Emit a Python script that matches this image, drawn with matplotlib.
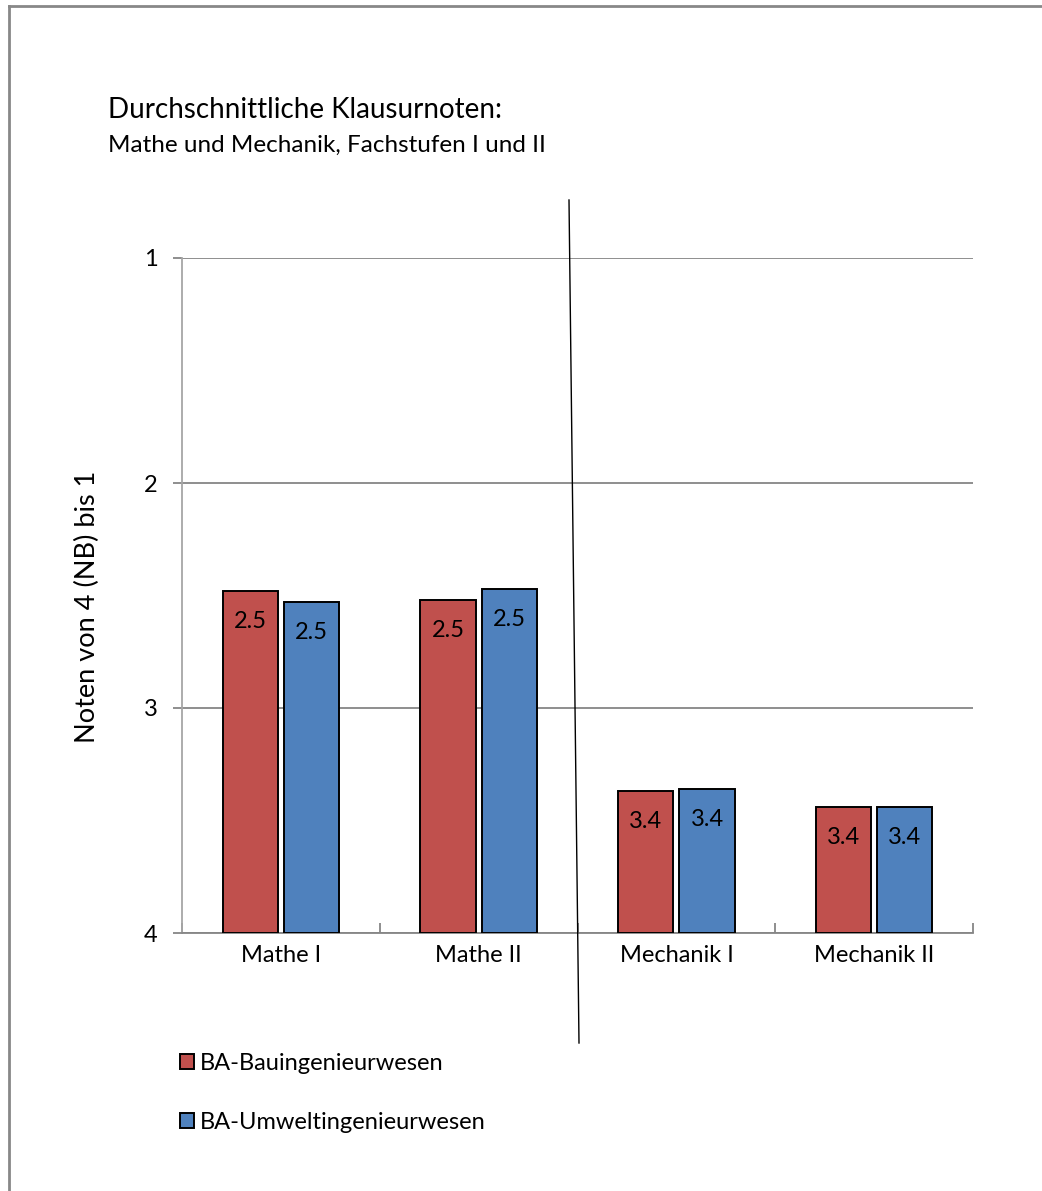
import matplotlib.pyplot as plt
import numpy as np
from matplotlib.lines import Line2D

plt.rcParams['font.family'] = ['Lato', 'DejaVu Sans']

# Daten
kategorien = ['Mathe I', 'Mathe II', 'Mechanik I', 'Mechanik II']
bau = [2.48, 2.52, 3.37, 3.44]
umwelt = [2.53, 2.47, 3.36, 3.44]
serien = ['BA-Bauingenieurwesen', 'BA-Umweltingenieurwesen']
y_ticks = [1, 2, 3, 4]

W, H = 1042, 1191
fs = 17
fig = plt.figure(figsize=(W / 100, H / 100), dpi=100)
ax = fig.add_axes([182 / W, 1 - 933 / H, (973 - 182) / W, (933 - 258) / H])

x = np.arange(len(kategorien))
breite = 0.28
farben = ['#C0504D', '#4F81BD']

balken = []
for off, werte, farbe in zip([-0.155, 0.155], [bau, umwelt], farben):
    b = ax.bar(x + off, [v - 4 for v in werte], bottom=4, width=breite,
               color=farbe, edgecolor='black', linewidth=1.4, zorder=3)
    balken.append(b)
    for xi, v in zip(x + off, werte):
        ax.annotate(f'{v:.1f}', (xi, v), xytext=(0, -22), textcoords='offset points',
                    ha='center', va='center', fontsize=fs, zorder=4)

ax.set_ylim(4, 1)
ax.set_xlim(-0.5, len(kategorien) - 0.5)
ax.set_yticks(y_ticks)
ax.set_yticklabels([str(t) for t in y_ticks], fontsize=fs)
ax.set_xticks(x)
ax.set_xticklabels(kategorien, fontsize=fs)
ax.tick_params(axis='x', length=0, pad=9)
ax.tick_params(axis='y', length=6.5, color='#868686', width=1.3, pad=11)
ax.set_xticks(np.arange(-0.5, len(kategorien)), minor=True)
ax.tick_params(axis='x', which='minor', direction='in', length=7, color='#868686', width=1.3)

ax.grid(axis='y', color='#868686', linewidth=1.3, zorder=0)
for s in ['top', 'right']:
    ax.spines[s].set_visible(False)
ax.spines['bottom'].set_color('#868686')
ax.spines['bottom'].set_linewidth(1.3)
ax.spines['left'].set_color('#a6a6a6')
ax.spines['left'].set_linewidth(1.3)

fig.text(87 / W, 1 - 607 / H, 'Noten von 4 (NB) bis 1', fontsize=19.5, rotation=90,
         ha='center', va='center')

fig.text(108 / W, 1 - 118 / H, 'Durchschnittliche Klausurnoten:', fontsize=20, va='baseline')
fig.text(108 / W, 1 - 152 / H, 'Mathe und Mechanik, Fachstufen I und II', fontsize=17.5, va='baseline')

# senkrechte Trennlinie
fig.add_artist(Line2D([569 / W, 579 / W], [1 - 200 / H, 1 - 1043 / H], color='black', linewidth=1))

# Rahmen
fig.add_artist(Line2D([9 / W, 9 / W], [0, 1 - 6 / H], color='#888888', linewidth=2))
fig.add_artist(Line2D([9 / W, 1], [1 - 6 / H, 1 - 6 / H], color='#888888', linewidth=2))

fig.legend([balken[0], balken[1]], serien, loc='upper left',
           bbox_to_anchor=(168 / W, 1 - 1041 / H), frameon=False, fontsize=fs,
           handlelength=0.6, handleheight=0.6, handletextpad=0.25, labelspacing=1.6,
           borderpad=0)

fig.savefig('out.png', dpi=100)
